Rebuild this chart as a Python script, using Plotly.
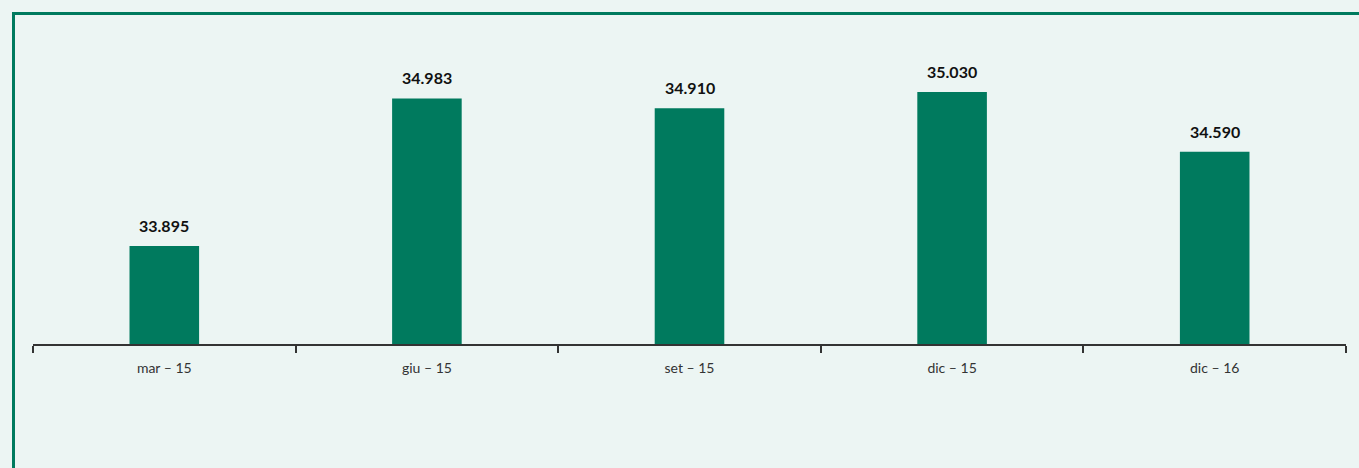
import plotly.graph_objects as go

categories = ["mar – 15", "giu – 15", "set – 15", "dic – 15", "dic – 16"]
values = [33.895, 34.983, 34.910, 35.030, 34.590]
labels = ["33.895", "34.983", "34.910", "35.030", "34.590"]

W, H = 1359, 468
L, R, T, B = 33, 13, 30, 124
pw, ph = W - L - R, H - T - B

def px(x):
    return (x - L) / pw

def py(y):
    return (H - B - y) / ph

green = "#007A5E"
bg = "#ECF5F3"

fig = go.Figure(go.Bar(
    x=categories, y=values,
    marker=dict(color=green, line=dict(width=0)),
    width=0.265,
))

for c, v, t in zip(categories, values, labels):
    fig.add_annotation(
        x=c, y=v, text=t, showarrow=False, yanchor="bottom", yshift=9,
        font=dict(family="Lato, sans-serif", size=16, color="#111111", weight="bold"),
    )

fig.update_layout(
    width=W, height=H,
    margin=dict(l=L, r=R, t=T, b=B),
    paper_bgcolor=bg, plot_bgcolor=bg,
    showlegend=False,
    xaxis=dict(
        showline=True, linecolor="#333333", linewidth=2,
        ticks="outside", tickson="boundaries", ticklen=7, tickwidth=2, tickcolor="#333333",
        ticklabelstandoff=10,
        tickfont=dict(family="Lato, sans-serif", size=14, color="#333333"),
        showgrid=False, zeroline=False,
    ),
    yaxis=dict(range=[33.173, 35.487], visible=False, showgrid=False, zeroline=False),
    shapes=[
        dict(type="line", xref="paper", yref="paper",
             x0=px(13.5), x1=px(13.5), y0=py(12), y1=py(H + 5),
             line=dict(color=green, width=3)),
        dict(type="line", xref="paper", yref="paper",
             x0=px(12), x1=px(W + 5), y0=py(13.5), y1=py(13.5),
             line=dict(color=green, width=3)),
    ],
)

fig.write_html("out.html")
